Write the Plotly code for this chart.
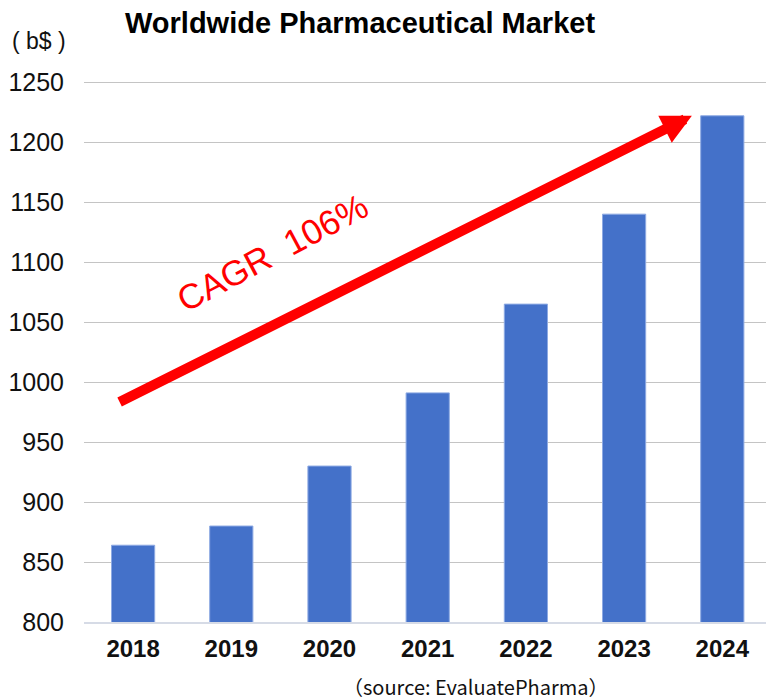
import plotly.graph_objects as go

years = ["2018", "2019", "2020", "2021", "2022", "2023", "2024"]
market_bn = [864, 880, 930, 991, 1065, 1140, 1222]
y_ticks = [800, 850, 900, 950, 1000, 1050, 1100, 1150, 1200, 1250]

title_text = "Worldwide Pharmaceutical Market"
unit_text = "( b$ )"
source_text = "（source: EvaluatePharma）"
cagr_text = "CAGR  106%"

W, H = 766, 700
L, R, T, B = 84, 0, 81, 78

fig = go.Figure()
fig.add_trace(go.Bar(
    x=list(range(len(years))), y=market_bn,
    width=0.44,
    marker=dict(color="#4471c9", line=dict(color="#8eaae3", width=1)),
))

def px(xp):
    return (xp - L) / (W - L - R)

def py(yp):
    return (H - B - yp) / (H - T - B)

fig.update_layout(
    width=W, height=H,
    margin=dict(l=L, r=R, t=T, b=B),
    plot_bgcolor="white", paper_bgcolor="white",
    showlegend=False,
    xaxis=dict(
        range=[-0.5, 6.445],
        tickmode="array",
        tickvals=list(range(len(years))),
        ticktext=years,
        showgrid=False, zeroline=False,
        showline=True, linecolor="#d6dbe6", linewidth=1.5,
        ticks="", ticklabelstandoff=4,
        tickfont=dict(family="Liberation Sans", size=24, color="#111111", weight="bold"),
    ),
    yaxis=dict(
        range=[800, 1251],
        tickmode="array", tickvals=y_ticks,
        showgrid=True, gridcolor="#c4c4c4", gridwidth=1.2,
        zeroline=False, showline=False,
        ticks="", ticklabelstandoff=19,
        tickfont=dict(family="Liberation Sans", size=25, color="#111111"),
    ),
)

fig.add_annotation(
    x=px(359.5), y=py(23), xref="paper", yref="paper",
    text=title_text, showarrow=False, xanchor="center", yanchor="middle",
    font=dict(family="Liberation Sans", size=29, color="#000000", weight="bold"),
)
fig.add_annotation(
    x=px(10), y=py(41), xref="paper", yref="paper",
    text=unit_text, showarrow=False, xanchor="left", yanchor="middle",
    font=dict(family="Liberation Sans", size=23, color="#111111"),
)
fig.add_annotation(
    x=px(476), y=py(686), xref="paper", yref="paper",
    text=source_text, showarrow=False, xanchor="center", yanchor="middle",
    font=dict(family="Noto Sans CJK JP", size=20, color="#111111"),
)
fig.add_annotation(
    x=px(272), y=py(252), xref="paper", yref="paper",
    text=cagr_text, showarrow=False, xanchor="center", yanchor="middle",
    textangle=-28,
    font=dict(family="Liberation Sans", size=35, color="#ff0000"),
)
# growth arrow
fig.add_annotation(
    x=5.69, y=1222, xref="x", yref="y",
    ax=-0.153, ay=982.7, axref="x", ayref="y",
    text="", showarrow=True,
    arrowhead=2, arrowsize=0.6, arrowwidth=10, arrowcolor="#ff0000",
)

fig.write_html("out.html", config={"displayModeBar": False},
               post_script="document.body.style.margin='0px';")
